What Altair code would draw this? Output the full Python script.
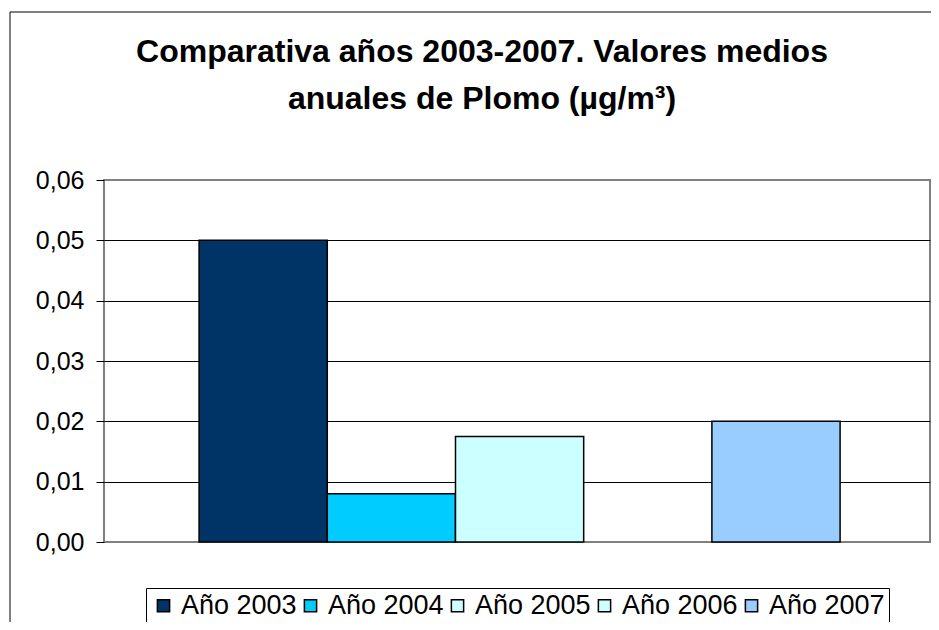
import altair as alt
import pandas as pd

# ---- data ----
series = ["Año 2003", "Año 2004", "Año 2005", "Año 2006", "Año 2007"]
values = [0.050, 0.008, 0.0175, None, 0.020]
colors = ["#003366", "#00CCFF", "#CCFFFF", "#CCFFFF", "#99CCFF"]
y_ticks = [0.0, 0.01, 0.02, 0.03, 0.04, 0.05, 0.06]
title_lines = ["Comparativa años 2003-2007. Valores medios", "anuales de Plomo (µg/m³)"]

FONT = "Liberation Sans, Arial, sans-serif"

df = pd.DataFrame({"serie": series, "valor": values})
one = pd.DataFrame({"k": [0]})

bars = alt.Chart(df).mark_bar(stroke="black", strokeWidth=1.5).encode(
    x=alt.X(
        "serie:N",
        scale=alt.Scale(domain=series, paddingInner=0, paddingOuter=0.7215, align=0.514),
        axis=None,
    ),
    y=alt.Y(
        "valor:Q",
        scale=alt.Scale(domain=[0, 0.06], nice=False, zero=True),
        axis=alt.Axis(
            values=y_ticks,
            title=None,
            labelExpr="replace(format(datum.value, '.2f'), '.', ',')",
            labelFont=FONT,
            labelFontSize=25,
            labelColor="black",
            labelPadding=12,
            tickColor="black",
            tickSize=8,
            tickWidth=1,
            domain=False,
            gridColor={"condition": {"test": "datum.value < 0.005 || datum.value > 0.055", "value": "#808080"}, "value": "black"},
            gridWidth=1,
        ),
    ),
    color=alt.Color(
        "serie:N",
        scale=alt.Scale(domain=series, range=colors),
        legend=alt.Legend(
            title=None,
            orient="none",
            legendX=42,
            legendY=408,
            direction="horizontal",
            strokeColor="black",
            padding=4,
            symbolType="square",
            symbolSize=150,
            symbolStrokeColor="black",
            symbolStrokeWidth=1.5,
            symbolOpacity=1,
            labelFont=FONT,
            labelFontSize=27,
            labelColor="black",
            labelOffset=4,
            columnPadding=0,
        ),
    ),
)

frame_left = alt.Chart(one).mark_rule(color="black", strokeWidth=1).encode(
    x=alt.value(-94), y=alt.value(-168), y2=alt.value(460)
)
frame_top = alt.Chart(one).mark_rule(color="black", strokeWidth=1).encode(
    x=alt.value(-94), x2=alt.value(845), y=alt.value(-168)
)

chart = alt.layer(frame_left, frame_top, bars).properties(
    width=826,
    height=362,
    autosize=alt.AutoSizeParams(type="none"),
    padding={"left": 96, "top": 172, "right": 1, "bottom": 80},
    background="white",
    title=alt.TitleParams(
        text=title_lines,
        font=FONT,
        fontSize=32,
        fontWeight="bold",
        color="black",
        lineHeight=47,
        anchor="middle",
        dx=-35,
        dy=104,
        offset=0,
    ),
).configure_view(stroke="#808080", strokeWidth=2)

chart.save("out.html", embed_options={"renderer": "svg", "actions": False})
